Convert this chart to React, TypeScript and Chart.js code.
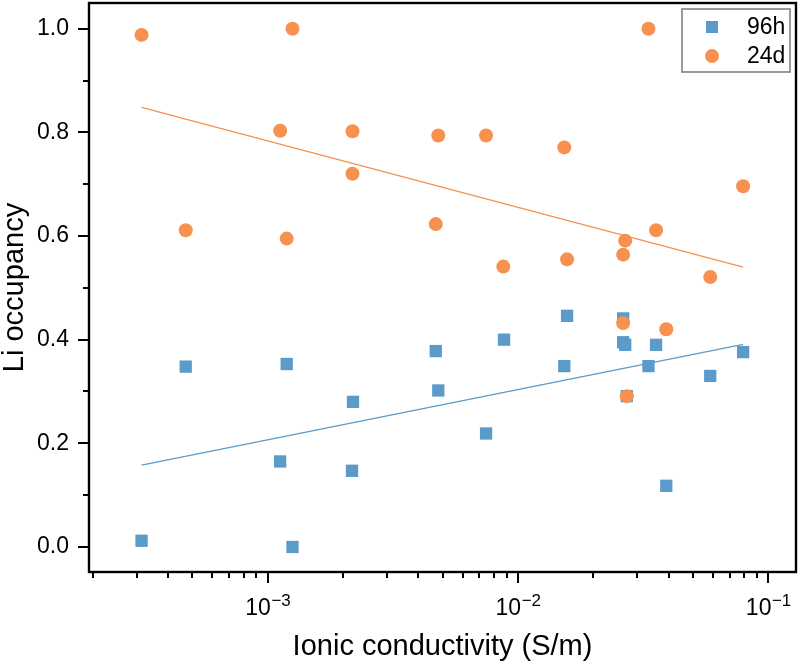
import { useEffect, useRef } from 'react';
import { Chart, registerables } from 'chart.js';

Chart.register(...registerables);

// ---- data ----
const conductivity96h = [3.13e-4, 4.70e-4, 1.12e-3, 1.19e-3, 1.255e-3, 2.17e-3, 2.19e-3, 4.69e-3, 4.80e-3, 7.45e-3, 8.79e-3, 1.53e-2, 1.57e-2, 2.63e-2, 2.63e-2, 2.68e-2, 2.72e-2, 3.32e-2, 3.56e-2, 3.91e-2, 5.86e-2, 7.93e-2];
const occupancy96h = [0.012, 0.348, 0.165, 0.353, 0.0, 0.147, 0.280, 0.378, 0.302, 0.219, 0.400, 0.349, 0.446, 0.441, 0.395, 0.390, 0.291, 0.349, 0.390, 0.118, 0.330, 0.376];

const conductivity24d = [3.13e-4, 4.70e-4, 1.12e-3, 1.19e-3, 1.255e-3, 2.18e-3, 2.18e-3, 4.69e-3, 4.80e-3, 7.45e-3, 8.73e-3, 1.53e-2, 1.57e-2, 2.63e-2, 2.63e-2, 2.68e-2, 2.72e-2, 3.32e-2, 3.56e-2, 3.91e-2, 5.86e-2, 7.93e-2];
const occupancy24d = [0.988, 0.611, 0.803, 0.595, 1.0, 0.802, 0.720, 0.623, 0.794, 0.794, 0.541, 0.771, 0.555, 0.564, 0.432, 0.591, 0.291, 1.0, 0.611, 0.420, 0.521, 0.696];

const fitConductivity = [3.13e-4, 7.93e-2];
const fit96h = [0.158, 0.391];
const fit24d = [0.848, 0.540];

const seriesNames = ['96h', '24d'];

const xTickValues = [1e-3, 1e-2, 1e-1];
const xTickBase = '10';
const xTickExponents = ['\u22123', '\u22122', '\u22121'];
const yTickValues = [0, 0.2, 0.4, 0.6, 0.8, 1.0];
const yTickLabels = ['0.0', '0.2', '0.4', '0.6', '0.8', '1.0'];
const yMinorTickValues = [0.1, 0.3, 0.5, 0.7, 0.9];

const X_MIN = 1.93e-4;
const X_MAX = 0.129;
const Y_MIN = -0.0483;
const Y_MAX = 1.0496;

const BLUE = '#5b9bc9';
const ORANGE = '#f7914f';
const FONT = '"Liberation Sans", Arial, sans-serif';

const xMinorTickValues: number[] = [];
for (let d = -4; d <= -1; d++) {
  for (let k = 2; k <= 9; k++) {
    const v = k * Math.pow(10, d);
    if (v >= X_MIN && v <= X_MAX) xMinorTickValues.push(v);
  }
}

const toPoints = (xs: number[], ys: number[]) => xs.map((x, i) => ({ x, y: ys[i] }));

const framePlugin = {
  id: 'frameTicksLegend',
  afterDraw(chart: any) {
    const { ctx, chartArea: a, scales } = chart;
    const xs = scales.x;
    const ys = scales.y;
    ctx.save();
    ctx.strokeStyle = '#000';
    ctx.lineWidth = 2;
    ctx.lineCap = 'butt';
    ctx.beginPath();
    for (const v of xTickValues) {
      const p = Math.round(xs.getPixelForValue(v));
      ctx.moveTo(p, a.bottom);
      ctx.lineTo(p, a.bottom + 11);
    }
    for (const v of xMinorTickValues) {
      const p = Math.round(xs.getPixelForValue(v));
      ctx.moveTo(p, a.bottom);
      ctx.lineTo(p, a.bottom + 6);
    }
    for (const v of yTickValues) {
      const p = Math.round(ys.getPixelForValue(v));
      ctx.moveTo(a.left, p);
      ctx.lineTo(a.left - 11, p);
    }
    for (const v of yMinorTickValues) {
      const p = Math.round(ys.getPixelForValue(v));
      ctx.moveTo(a.left, p);
      ctx.lineTo(a.left - 6, p);
    }
    ctx.stroke();
    ctx.lineWidth = 2.4;
    ctx.strokeRect(a.left, a.top, a.right - a.left, a.bottom - a.top);

    // x tick labels: 10 with superscript exponent
    ctx.fillStyle = '#000';
    ctx.textAlign = 'left';
    ctx.textBaseline = 'alphabetic';
    const baseFont = `23px ${FONT}`;
    const supFont = `17px ${FONT}`;
    xTickValues.forEach((v, i) => {
      const p = xs.getPixelForValue(v);
      ctx.font = baseFont;
      const wb = ctx.measureText(xTickBase).width;
      ctx.font = supFont;
      const ws = ctx.measureText(xTickExponents[i]).width;
      const x0 = p - (wb + ws) / 2;
      const baseY = a.bottom + 43;
      ctx.font = baseFont;
      ctx.fillText(xTickBase, x0, baseY);
      ctx.font = supFont;
      ctx.fillText(xTickExponents[i], x0 + wb + 0.5, baseY - 9);
    });

    // legend
    const bw = 108;
    const bh = 63;
    const bx = a.right - 6 - bw;
    const by = a.top + 6;
    ctx.fillStyle = '#fff';
    ctx.fillRect(bx, by, bw, bh);
    ctx.strokeStyle = '#7a7a7a';
    ctx.lineWidth = 1.5;
    ctx.strokeRect(bx, by, bw, bh);
    const mx = bx + 30;
    const rows = [by + 18, by + 47];
    ctx.fillStyle = BLUE;
    ctx.fillRect(mx - 6, rows[0] - 6, 12, 12);
    ctx.fillStyle = ORANGE;
    ctx.beginPath();
    ctx.arc(mx, rows[1], 7, 0, Math.PI * 2);
    ctx.fill();
    ctx.fillStyle = '#000';
    ctx.font = `23px ${FONT}`;
    ctx.textAlign = 'left';
    ctx.textBaseline = 'middle';
    ctx.fillText(seriesNames[0], bx + 65, rows[0] + 1);
    ctx.fillText(seriesNames[1], bx + 65, rows[1] + 1);
    ctx.restore();
  },
};

const zeroPadding = (scale: any) => {
  scale.paddingTop = 0;
  scale.paddingBottom = 0;
  scale.paddingLeft = 0;
  scale.paddingRight = 0;
};

export default function App() {
  const ref = useRef<HTMLCanvasElement>(null);
  useEffect(() => {
    const chart = new Chart(ref.current as HTMLCanvasElement, {
      type: 'scatter',
      data: {
        datasets: [
          {
            type: 'line',
            label: '96h fit',
            data: toPoints(fitConductivity, fit96h),
            borderColor: BLUE,
            borderWidth: 1.3,
            pointRadius: 0,
            fill: false,
            order: 1,
          } as any,
          {
            type: 'line',
            label: '24d fit',
            data: toPoints(fitConductivity, fit24d),
            borderColor: ORANGE,
            borderWidth: 1.3,
            pointRadius: 0,
            fill: false,
            order: 1,
          } as any,
          {
            label: seriesNames[1],
            data: toPoints(conductivity24d, occupancy24d),
            pointStyle: 'circle',
            pointRadius: 7,
            pointHoverRadius: 7,
            backgroundColor: ORANGE,
            borderWidth: 0,
            order: 2,
          },
          {
            label: seriesNames[0],
            data: toPoints(conductivity96h, occupancy96h),
            pointStyle: 'rect',
            pointRadius: 8.7,
            pointHoverRadius: 8.7,
            backgroundColor: BLUE,
            borderWidth: 0,
            order: 3,
          },
        ],
      },
      options: {
        responsive: false,
        animation: false,
        devicePixelRatio: 1,
        layout: { autoPadding: false, padding: { left: 0, right: 4, top: 3, bottom: 0 } },
        plugins: {
          legend: { display: false },
          tooltip: { enabled: false },
        },
        scales: {
          x: {
            type: 'logarithmic',
            min: X_MIN,
            max: X_MAX,
            afterBuildTicks: (scale: any) => {
              scale.ticks = xTickValues.map((v) => ({ value: v }));
            },
            afterFit: (scale: any) => {
              scale.height = 94;
              zeroPadding(scale);
            },
            grid: { display: false, drawTicks: false },
            border: { display: false },
            ticks: { display: false },
            title: {
              display: true,
              text: 'Ionic conductivity (S/m)',
              color: '#000',
              font: { family: FONT, size: 29, lineHeight: 1 },
              padding: { top: 0, bottom: 5 },
            },
          },
          y: {
            type: 'linear',
            min: Y_MIN,
            max: Y_MAX,
            afterBuildTicks: (scale: any) => {
              scale.ticks = yTickValues.map((v) => ({ value: v }));
            },
            afterFit: (scale: any) => {
              scale.width = 89;
              zeroPadding(scale);
            },
            grid: { display: false, drawTicks: false },
            border: { display: false },
            ticks: {
              padding: 20,
              color: '#000',
              autoSkip: false,
              font: { family: FONT, size: 23 },
              callback: (_v: any, i: number) => yTickLabels[i],
            },
            title: {
              display: true,
              text: 'Li occupancy',
              color: '#000',
              font: { family: FONT, size: 29, lineHeight: 1 },
              padding: { top: 0, bottom: 0 },
            },
          },
        },
      },
      plugins: [framePlugin],
    });
    return () => chart.destroy();
  }, []);

  return (
    <div style={{ position: 'fixed', left: 0, top: 0, width: 800, height: 666, background: '#fff' }}>
      <canvas ref={ref} width={800} height={666} style={{ display: 'block', width: 800, height: 666 }} />
    </div>
  );
}
